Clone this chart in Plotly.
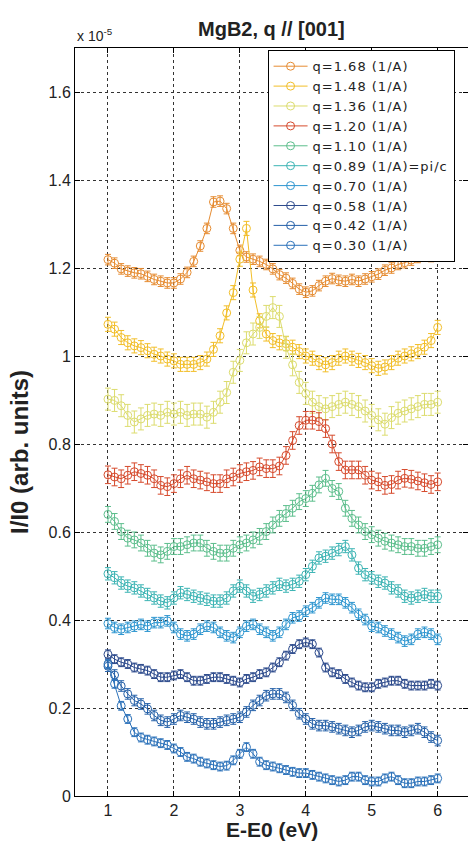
import plotly.graph_objects as go

energy = [1.0, 1.1, 1.2, 1.3, 1.4, 1.5, 1.6, 1.7, 1.8, 1.9,
          2.0, 2.1, 2.2, 2.3, 2.4, 2.5, 2.6, 2.7, 2.8, 2.9,
          3.0, 3.1, 3.2, 3.3, 3.4, 3.5, 3.6, 3.7, 3.8, 3.9,
          4.0, 4.1, 4.2, 4.3, 4.4, 4.5, 4.6, 4.7, 4.8, 4.9,
          5.0, 5.1, 5.2, 5.3, 5.4, 5.5, 5.6, 5.7, 5.8, 5.9,
          6.0]

q168 = [1.219, 1.211, 1.198, 1.193, 1.189, 1.187, 1.181, 1.174, 1.170, 1.166,
        1.166, 1.175, 1.190, 1.215, 1.250, 1.290, 1.350, 1.352, 1.335, 1.290,
        1.240, 1.225, 1.220, 1.215, 1.208, 1.198, 1.185, 1.177, 1.165, 1.152,
        1.145, 1.148, 1.160, 1.170, 1.176, 1.172, 1.170, 1.174, 1.170, 1.175,
        1.180, 1.186, 1.195, 1.200, 1.208, 1.212, 1.218, 1.224, 1.228, 1.226,
        1.228]
q148 = [1.072, 1.061, 1.042, 1.030, 1.023, 1.019, 1.012, 1.004, 1.000, 0.993,
        0.989, 0.981, 0.981, 0.981, 0.985, 0.993, 1.015, 1.046, 1.098, 1.144,
        1.220, 1.290, 1.150, 1.080, 1.050, 1.035, 1.030, 1.028, 1.020, 1.010,
        1.000, 0.995, 0.985, 0.980, 0.985, 0.995, 1.000, 0.995, 0.990, 0.985,
        0.978, 0.972, 0.975, 0.985, 0.995, 1.000, 1.005, 1.010, 1.020, 1.035,
        1.065]
q136 = [0.902, 0.899, 0.887, 0.865, 0.850, 0.857, 0.865, 0.868, 0.865, 0.872,
        0.868, 0.872, 0.865, 0.868, 0.868, 0.861, 0.872, 0.895, 0.917, 0.963,
        0.990, 1.030, 1.050, 1.065, 1.090, 1.110, 1.090, 1.020, 0.980, 0.940,
        0.915, 0.895, 0.885, 0.880, 0.885, 0.890, 0.895, 0.890, 0.885, 0.875,
        0.865, 0.855, 0.845, 0.860, 0.870, 0.875, 0.880, 0.885, 0.890, 0.890,
        0.895]
q120 = [0.730, 0.725, 0.721, 0.729, 0.737, 0.733, 0.729, 0.721, 0.706, 0.703,
        0.710, 0.721, 0.729, 0.721, 0.718, 0.714, 0.710, 0.710, 0.721, 0.725,
        0.733, 0.737, 0.740, 0.748, 0.744, 0.744, 0.750, 0.774, 0.808, 0.842,
        0.854, 0.854, 0.851, 0.835, 0.800, 0.760, 0.741, 0.741, 0.741, 0.729,
        0.718, 0.714, 0.706, 0.708, 0.718, 0.722, 0.720, 0.716, 0.712, 0.708,
        0.714]
q110 = [0.640, 0.624, 0.601, 0.586, 0.582, 0.575, 0.563, 0.552, 0.548, 0.556,
        0.567, 0.567, 0.571, 0.575, 0.575, 0.563, 0.556, 0.552, 0.552, 0.563,
        0.571, 0.575, 0.582, 0.590, 0.601, 0.616, 0.631, 0.642, 0.654, 0.669,
        0.676, 0.688, 0.707, 0.722, 0.699, 0.692, 0.654, 0.631, 0.616, 0.601,
        0.594, 0.586, 0.579, 0.575, 0.571, 0.567, 0.567, 0.563, 0.563, 0.567,
        0.571]
q089 = [0.505, 0.496, 0.484, 0.477, 0.473, 0.466, 0.458, 0.450, 0.443, 0.439,
        0.450, 0.462, 0.458, 0.454, 0.450, 0.447, 0.443, 0.443, 0.450, 0.466,
        0.477, 0.466, 0.454, 0.458, 0.466, 0.473, 0.481, 0.477, 0.481, 0.488,
        0.503, 0.522, 0.541, 0.545, 0.552, 0.560, 0.567, 0.548, 0.518, 0.503,
        0.496, 0.488, 0.484, 0.473, 0.466, 0.454, 0.450, 0.454, 0.458, 0.454,
        0.454]
q070 = [0.392, 0.383, 0.379, 0.383, 0.386, 0.390, 0.386, 0.394, 0.394, 0.398,
        0.383, 0.368, 0.364, 0.368, 0.379, 0.386, 0.383, 0.372, 0.364, 0.360,
        0.372, 0.386, 0.390, 0.379, 0.372, 0.364, 0.372, 0.390, 0.405, 0.409,
        0.420, 0.428, 0.439, 0.450, 0.447, 0.447, 0.439, 0.428, 0.413, 0.401,
        0.386, 0.383, 0.375, 0.368, 0.360, 0.352, 0.356, 0.368, 0.372, 0.368,
        0.356]
q058 = [0.322, 0.311, 0.304, 0.300, 0.292, 0.289, 0.285, 0.277, 0.270, 0.270,
        0.274, 0.277, 0.270, 0.262, 0.262, 0.266, 0.270, 0.270, 0.266, 0.262,
        0.258, 0.266, 0.270, 0.277, 0.281, 0.292, 0.304, 0.319, 0.334, 0.345,
        0.349, 0.345, 0.326, 0.292, 0.281, 0.277, 0.266, 0.258, 0.251, 0.247,
        0.247, 0.255, 0.258, 0.262, 0.262, 0.255, 0.251, 0.251, 0.251, 0.255,
        0.251]
q042 = [0.295, 0.275, 0.250, 0.232, 0.217, 0.209, 0.198, 0.183, 0.172, 0.168,
        0.175, 0.183, 0.179, 0.175, 0.168, 0.164, 0.164, 0.168, 0.172, 0.175,
        0.179, 0.191, 0.206, 0.217, 0.228, 0.232, 0.232, 0.224, 0.206, 0.187,
        0.175, 0.164, 0.160, 0.160, 0.157, 0.153, 0.149, 0.145, 0.149, 0.157,
        0.160, 0.157, 0.153, 0.149, 0.149, 0.145, 0.149, 0.153, 0.145, 0.134,
        0.126]
q030 = [0.300, 0.255, 0.205, 0.175, 0.145, 0.133, 0.128, 0.124, 0.120, 0.116,
        0.108, 0.100, 0.089, 0.085, 0.078, 0.074, 0.070, 0.067, 0.069, 0.081,
        0.096, 0.111, 0.096, 0.078, 0.070, 0.067, 0.063, 0.059, 0.055, 0.052,
        0.052, 0.048, 0.044, 0.040, 0.036, 0.033, 0.036, 0.044, 0.044, 0.036,
        0.033, 0.033, 0.040, 0.044, 0.036, 0.029, 0.029, 0.033, 0.033, 0.036,
        0.040]

series_names = ["q=1.68 (1/A)", "q=1.48 (1/A)", "q=1.36 (1/A)", "q=1.20 (1/A)",
                "q=1.10 (1/A)", "q=0.89 (1/A)=pi/c", "q=0.70 (1/A)", "q=0.58 (1/A)",
                "q=0.42 (1/A)", "q=0.30 (1/A)"]
series_values = [q168, q148, q136, q120, q110, q089, q070, q058, q042, q030]
series_errors = [0.012, 0.016, 0.025, 0.02, 0.018, 0.014, 0.012, 0.01, 0.012, 0.01]

colors = ["#E68C32", "#F2BE28", "#DCDC6E", "#D64A2C", "#5CBE8C", "#3CB4B4",
          "#2E96D0", "#2C4A8C", "#2460A8", "#2C72BA"]

yticks = [0, 0.2, 0.4, 0.6, 0.8, 1.0, 1.2, 1.4, 1.6]
ytick_text = ["0", "0.2", "0.4", "0.6", "0.8", "1", "1.2", "1.4", "1.6"]
xticks = [1, 2, 3, 4, 5, 6]

FONT = "Liberation Sans, Arial, sans-serif"
LEGFONT = "DejaVu Sans, Liberation Sans, sans-serif"

fig = go.Figure()
for name, vals, err, col in zip(series_names, series_values, series_errors, colors):
    fig.add_trace(go.Scatter(
        x=energy, y=vals,
        name='<span style="letter-spacing:1px">' + name + '</span>',
        mode="lines+markers",
        line=dict(color=col, width=1),
        marker=dict(symbol="circle-open", size=8, color=col, line=dict(width=1, color=col)),
        error_y=dict(type="constant", value=err, color=col, thickness=1, width=3),
    ))

axis_common = dict(
    showline=True, linecolor="black", linewidth=1, mirror="ticks",
    ticks="inside", ticklen=5, tickcolor="black",
    showgrid=True, gridcolor="#333333", gridwidth=1, griddash="dot",
    zeroline=False, tickfont=dict(family=FONT, size=16, color="#222"),
)

fig.update_layout(
    width=468, height=842,
    margin=dict(l=75, r=0, t=48, b=46),
    paper_bgcolor="white", plot_bgcolor="white",
    showlegend=True,
    legend=dict(x=0.49, y=0.997, xanchor="left", yanchor="top",
                bgcolor="white", bordercolor="black", borderwidth=1,
                font=dict(family=LEGFONT, size=13, color="#222"),
                itemwidth=34, tracegroupgap=0),
    xaxis=dict(range=[0.5, 6.46], tickvals=xticks, **axis_common),
    yaxis=dict(range=[0, 1.7], tickvals=yticks, ticktext=ytick_text, **axis_common),
    annotations=[
        dict(text="<b>MgB2, q // [001]</b>", xref="paper", yref="paper", x=0.5, y=1,
             xanchor="center", yanchor="middle", yshift=19, showarrow=False,
             font=dict(family=FONT, size=20, color="#222")),
        dict(text="x 10<sup>-5</sup>", xref="paper", yref="paper", x=0, y=1,
             xanchor="left", yanchor="middle", yshift=13, showarrow=False,
             font=dict(family=FONT, size=14, color="#222")),
        dict(text="<b>E-E0 (eV)</b>", xref="paper", yref="paper", x=0.5, y=0,
             xanchor="center", yanchor="middle", yshift=-33, showarrow=False,
             font=dict(family=FONT, size=21, color="#222")),
        dict(text="<b>I/I0 (arb. units)</b>", xref="paper", yref="paper", x=0, y=0.46,
             xanchor="center", yanchor="middle", xshift=-55, textangle=-90, showarrow=False,
             font=dict(family=FONT, size=24, color="#222")),
    ],
)

fig.write_html("out.html")
